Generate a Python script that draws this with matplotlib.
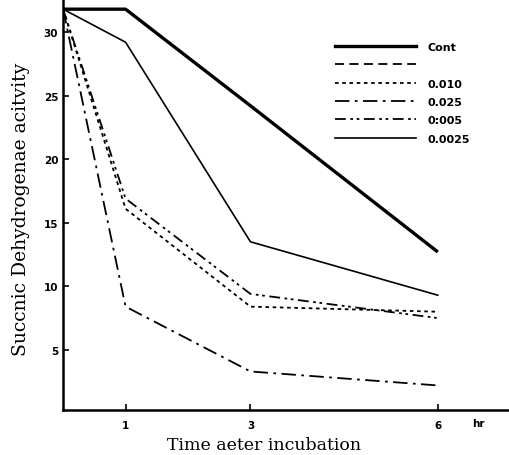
import numpy as np
import matplotlib.pyplot as plt
from matplotlib.lines import Line2D

# time after incubation (hr) and succinic dehydrogenase activity
t = [0, 1, 3, 6]
cont    = [31.8, 31.8, 24.2, 12.7]
c_0010  = [31.8, 16.1, 8.4, 8.0]
c_0025  = [31.8, 8.4, 3.3, 2.2]
c_0005  = [31.8, 16.9, 9.4, 7.5]
c_00025 = [31.8, 29.2, 13.5, 9.3]

labels = ['Cont', '', '0.010', '0.025', '0:005', '0.0025']

fig = plt.figure(figsize=(5.09, 4.56), dpi=100)
ax = fig.add_axes([0.124, 0.099, 0.876, 0.901])

ax.plot(t, cont, color='k', lw=2.4, solid_capstyle='butt')
ax.plot(t, c_0010, color='k', lw=1.3, dashes=(2, 2))
ax.plot(t, c_0025, color='k', lw=1.3, dashes=(8, 3, 1.5, 3))
ax.plot(t, c_0005, color='k', lw=1.3, dashes=(6, 2.5, 1.5, 2, 1.5, 2.5))
ax.plot(t, c_00025, color='k', lw=1.2)

ax.set_xlim(0, 7.14)
ax.set_ylim(0.28, 32.6)
ax.spines['top'].set_visible(False)
ax.spines['right'].set_visible(False)
ax.spines['left'].set_linewidth(1.8)
ax.spines['bottom'].set_linewidth(1.8)

ax.set_xticks([1, 3, 6])
ax.set_yticks([5, 10, 15, 20, 25, 30])
ax.tick_params(direction='in', length=4, width=1.2, labelsize=7.5)
ax.tick_params(axis='x', pad=7)
for lab in ax.get_xticklabels() + ax.get_yticklabels():
    lab.set_fontweight('bold')
ax.text(6.65, -0.75, 'hr', fontsize=7.5, fontweight='bold', ha='center', va='center')

ax.set_xlabel('Time aeter incubation', family='DejaVu Serif', fontsize=12.5)
ax.set_ylabel('Succnic Dehydrogenae acitvity', family='DejaVu Serif', fontsize=13.5)
ax.xaxis.set_label_coords(0.45, -0.063)
ax.yaxis.set_label_coords(-0.075, 0.49)

handles = [Line2D([], [], color='k', lw=2.4),
           Line2D([], [], color='k', lw=1.3, dashes=(5, 3)),
           Line2D([], [], color='k', lw=1.3, dashes=(2, 2)),
           Line2D([], [], color='k', lw=1.3, dashes=(8, 3, 1.5, 3)),
           Line2D([], [], color='k', lw=1.3, dashes=(6, 2.5, 1.5, 2, 1.5, 2.5)),
           Line2D([], [], color='k', lw=1.2)]
leg = ax.legend(handles, labels, loc='upper left', bbox_to_anchor=(0.588, 0.92),
                frameon=False, handlelength=7.3, handletextpad=1.0,
                labelspacing=0.75, prop={'size': 8, 'weight': 'bold'})

plt.savefig('out.png', dpi=100)
